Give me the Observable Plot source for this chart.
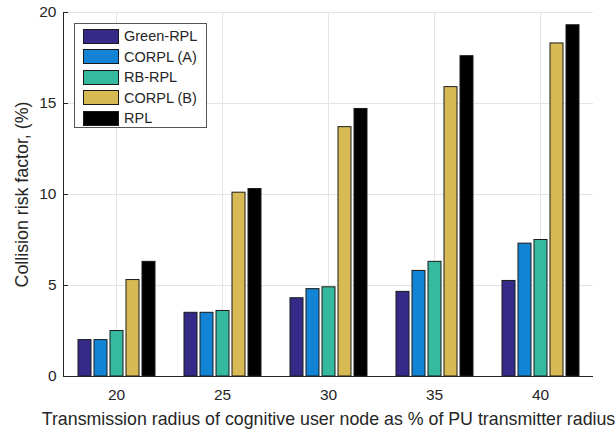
<!DOCTYPE html>
<html>
<head>
<meta charset="utf-8">
<script src="https://cdn.jsdelivr.net/npm/d3@7"></script>
<script src="https://cdn.jsdelivr.net/npm/@observablehq/plot@0.6"></script>
<style>
  html, body { margin: 0; padding: 0; background: #fff; }
  #chart { position: relative; width: 616px; height: 429px; font-family: "Liberation Sans", Arial, sans-serif; }
  #chart svg g[aria-label="y-axis tick label"] text,
  #chart svg g[aria-label="fx-axis tick label"] text { font-size: 15.5px; }
  #chart svg g[aria-label="y-axis label"] text,
  #chart svg g[aria-label="fx-axis label"] text { font-size: 17.8px; }
  #legend {
    position: absolute; left: 74px; top: 23px; width: 131px; height: 103px;
    background: #fff; border: 1px solid #555; box-sizing: content-box;
    font-size: 14.5px; color: #262626;
  }
  #legend .row { position: absolute; left: 8px; height: 16px; display: flex; align-items: center; }
  #legend .sw { width: 36px; height: 15px; border: 1px solid #1a1a1a; box-sizing: border-box; margin-right: 5px; }
</style>
</head>
<body>
<div id="chart"></div>
<script>
// Transmission radius (% of PU transmitter radius)
const categories = [20, 25, 30, 35, 40];
// Routing schemes, in legend order
const series = ["Green-RPL", "CORPL (A)", "RB-RPL", "CORPL (B)", "RPL"];
// Collision risk factor (%) per scheme
const greenRPL = [2.0, 3.5, 4.3, 4.65, 5.25];
const corplA   = [2.0, 3.5, 4.8, 5.8, 7.3];
const rbRPL    = [2.5, 3.6, 4.9, 6.3, 7.5];
const corplB   = [5.3, 10.1, 13.7, 15.9, 18.3];
const rpl      = [6.3, 10.3, 14.7, 17.6, 19.3];
const yTicks = [0, 5, 10, 15, 20];
const colors = ["#352a87", "#1384d5", "#35b99f", "#d8ba55", "#000000"];

const values = [greenRPL, corplA, rbRPL, corplB, rpl];
const table = series.flatMap((s, i) =>
  categories.map((c, j) => ({category: c, series: s, value: values[i][j]}))
);

const ink = "#262626";
const gridColor = "#e4e4e4";

const chart = Plot.plot({
  width: 616,
  height: 429,
  marginLeft: 62,
  marginRight: 23,
  marginTop: 12,
  marginBottom: 53,
  style: {fontFamily: "'Liberation Sans', Arial, sans-serif", color: ink, background: "#fff"},
  fx: {domain: categories, padding: 0},
  x: {domain: series, paddingInner: 0.2, paddingOuter: 0.857},
  y: {domain: [0, 20]},
  color: {domain: series, range: colors},
  marks: [
    Plot.gridY(yTicks, {stroke: gridColor, strokeOpacity: 1}),
    Plot.gridFx({stroke: gridColor, strokeOpacity: 1}),
    Plot.barY(table, {fx: "category", x: "series", y: "value", fill: "series", stroke: "#1a1a1a", strokeWidth: 1}),
    Plot.ruleY([0], {stroke: ink}),
    Plot.frame({anchor: "left", facetAnchor: "left", stroke: ink}),
    Plot.axisY(yTicks, {
      anchor: "left", tickSize: -5, tickPadding: 12, stroke: ink, fill: ink,
      label: "Collision risk factor, (%)", labelAnchor: "center", labelArrow: "none", labelOffset: 48
    }),
    Plot.axisFx({
      anchor: "bottom", tickSize: 0, tickPadding: 12, fill: ink,
      label: "Transmission radius of cognitive user node as % of PU transmitter radius",
      labelAnchor: "center", labelOffset: 48
    }),
    Plot.axisX({ticks: [], label: null})
  ]
});

const root = document.getElementById("chart");
root.appendChild(chart);

// In-plot legend box
const legend = document.createElement("div");
legend.id = "legend";
series.forEach((s, i) => {
  const row = document.createElement("div");
  row.className = "row";
  row.style.top = (4 + i * 20.5) + "px";
  const sw = document.createElement("div");
  sw.className = "sw";
  sw.style.background = colors[i];
  const label = document.createElement("span");
  label.textContent = s;
  row.appendChild(sw);
  row.appendChild(label);
  legend.appendChild(row);
});
root.appendChild(legend);
</script>
</body>
</html>
